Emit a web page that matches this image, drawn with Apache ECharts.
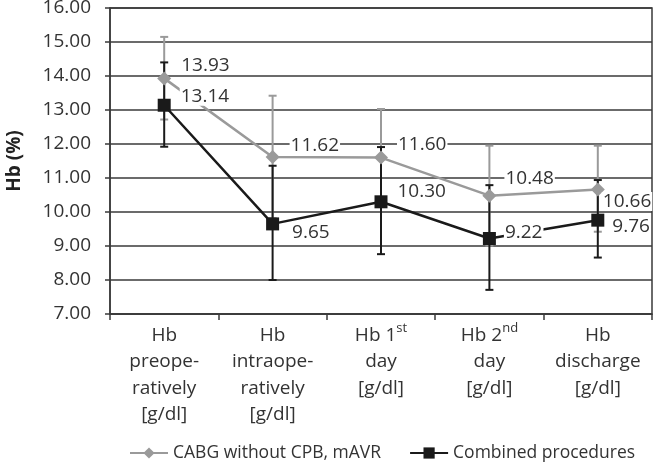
<!DOCTYPE html>
<html>
<head>
<meta charset="utf-8">
<script src="https://cdn.jsdelivr.net/npm/echarts@6/dist/echarts.min.js"></script>
<style>html,body{margin:0;padding:0;background:#fff}#c{width:654px;height:464px}</style>
</head>
<body>
<div id="c"></div>
<script>
var categories = ['Hb\npreope-\nratively\n[g/dl]', 'Hb\nintraope-\nratively\n[g/dl]', 'Hb 1{sup|st}\nday\n[g/dl]', 'Hb 2{sup|nd}\nday\n[g/dl]', 'Hb\ndischarge\n[g/dl]'];
var yTicks = [7, 8, 9, 10, 11, 12, 13, 14, 15, 16];
var seriesNames = ['CABG without CPB, mAVR', 'Combined procedures'];
var cabgValues = [13.93, 11.62, 11.60, 10.48, 10.66];
var cabgUpper = [15.15, 13.42, 13.03, 11.95, 11.95];
var cabgLower = [12.72, 9.82, 10.17, 9.01, 9.42];
var combValues = [13.14, 9.65, 10.30, 9.22, 9.76];
var combUpper = [14.40, 11.36, 11.91, 10.79, 10.94];
var combLower = [11.92, 8.00, 8.76, 7.71, 8.66];

// label placement (style only)
var cabgLabelOffsets = [[9, -13], [10, -11], [9, -13], [8, -17], [-3, 12]];
var combLabelOffsets = [[9, -9], [12, 9], [9, -10], [8, -6], [7, 6]];

var FONT = 'Open Sans';
var GRAY = '#9a9a9a';
var BLACK = '#1a1a1a';
var FS = 19;

function lineData(vals, offs) {
  return vals.map(function (v, i) {
    return { value: v, label: { offset: offs[i] } };
  });
}
function errData(lo, hi) {
  return lo.map(function (l, i) { return [i, l, hi[i]]; });
}
function errRender(color) {
  return function (params, api) {
    var x = api.value(0);
    var p1 = api.coord([x, api.value(1)]);
    var p2 = api.coord([x, api.value(2)]);
    var w = 4;
    var st = { stroke: color, lineWidth: 2 };
    return {
      type: 'group',
      children: [
        { type: 'line', shape: { x1: p1[0], y1: p1[1], x2: p2[0], y2: p2[1] }, style: st },
        { type: 'line', shape: { x1: p1[0] - w, y1: p1[1], x2: p1[0] + w, y2: p1[1] }, style: st },
        { type: 'line', shape: { x1: p2[0] - w, y1: p2[1], x2: p2[0] + w, y2: p2[1] }, style: st }
      ]
    };
  };
}

var labelStyle = {
  show: true,
  position: 'right',
  distance: 0,
  fontFamily: FONT,
  fontSize: FS,
  color: '#333',
  backgroundColor: '#fff',
  padding: [0, 1],
  formatter: function (p) { return p.value.toFixed(2); }
};

var chart = echarts.init(document.getElementById('c'), null, { renderer: 'canvas' });
chart.setOption({
  animation: false,
  backgroundColor: '#fff',
  textStyle: { fontFamily: FONT },
  grid: { left: 110, right: 2, top: 8, bottom: 150, containLabel: false, outerBoundsMode: 'none', show: true, borderColor: '#3a3a3a', borderWidth: 1.5, backgroundColor: 'transparent' },
  legend: {
    bottom: -3,
    left: 124,
    itemGap: 28,
    itemWidth: 38,
    itemHeight: 14,
    textStyle: { fontFamily: FONT, fontSize: 17.5, color: '#333' },
    data: seriesNames
  },
  xAxis: {
    type: 'category',
    data: categories,
    boundaryGap: true,
    axisLine: { lineStyle: { color: '#3a3a3a', width: 1.5 } },
    axisTick: { show: true, alignWithLabel: false, length: 6, lineStyle: { color: '#3a3a3a', width: 1.5 } },
    axisLabel: {
      interval: 0,
      margin: 8,
      fontFamily: FONT,
      fontSize: FS,
      color: '#333',
      lineHeight: 26.5,
      align: 'center',
      rich: { sup: { fontSize: 13, verticalAlign: 'top', lineHeight: 18, fontFamily: FONT, color: '#333' } }
    }
  },
  yAxis: {
    type: 'value',
    min: yTicks[0],
    max: yTicks[yTicks.length - 1],
    interval: 1,
    name: 'Hb (%)',
    nameLocation: 'middle',
    nameGap: 86,
    nameTextStyle: { fontFamily: FONT, fontSize: 19, fontWeight: 'bold', color: '#222' },
    axisLine: { show: true, lineStyle: { color: '#3a3a3a', width: 1.5 } },
    axisTick: { show: true, length: 5, lineStyle: { color: '#3a3a3a', width: 1.5 } },
    splitLine: { show: true, lineStyle: { color: '#3a3a3a', width: 1.5 } },
    axisLabel: {
      margin: 19,
      fontFamily: FONT,
      fontSize: FS,
      color: '#333',
      formatter: function (v) { return v.toFixed(2); }
    }
  },
  series: [
    {
      name: 'errCabg', type: 'custom', z: 2, silent: true,
      renderItem: errRender(GRAY), data: errData(cabgLower, cabgUpper)
    },
    {
      name: 'errComb', type: 'custom', z: 2, silent: true,
      renderItem: errRender(BLACK), data: errData(combLower, combUpper)
    },
    {
      name: seriesNames[0], type: 'line', z: 3,
      data: lineData(cabgValues, cabgLabelOffsets),
      symbol: 'diamond', symbolSize: 14,
      lineStyle: { color: GRAY, width: 2.5 },
      itemStyle: { color: GRAY },
      label: labelStyle
    },
    {
      name: seriesNames[1], type: 'line', z: 4,
      data: lineData(combValues, combLabelOffsets),
      symbol: 'rect', symbolSize: 13,
      lineStyle: { color: BLACK, width: 2.5 },
      itemStyle: { color: BLACK },
      label: labelStyle
    }
  ]
});
</script>
</body>
</html>
